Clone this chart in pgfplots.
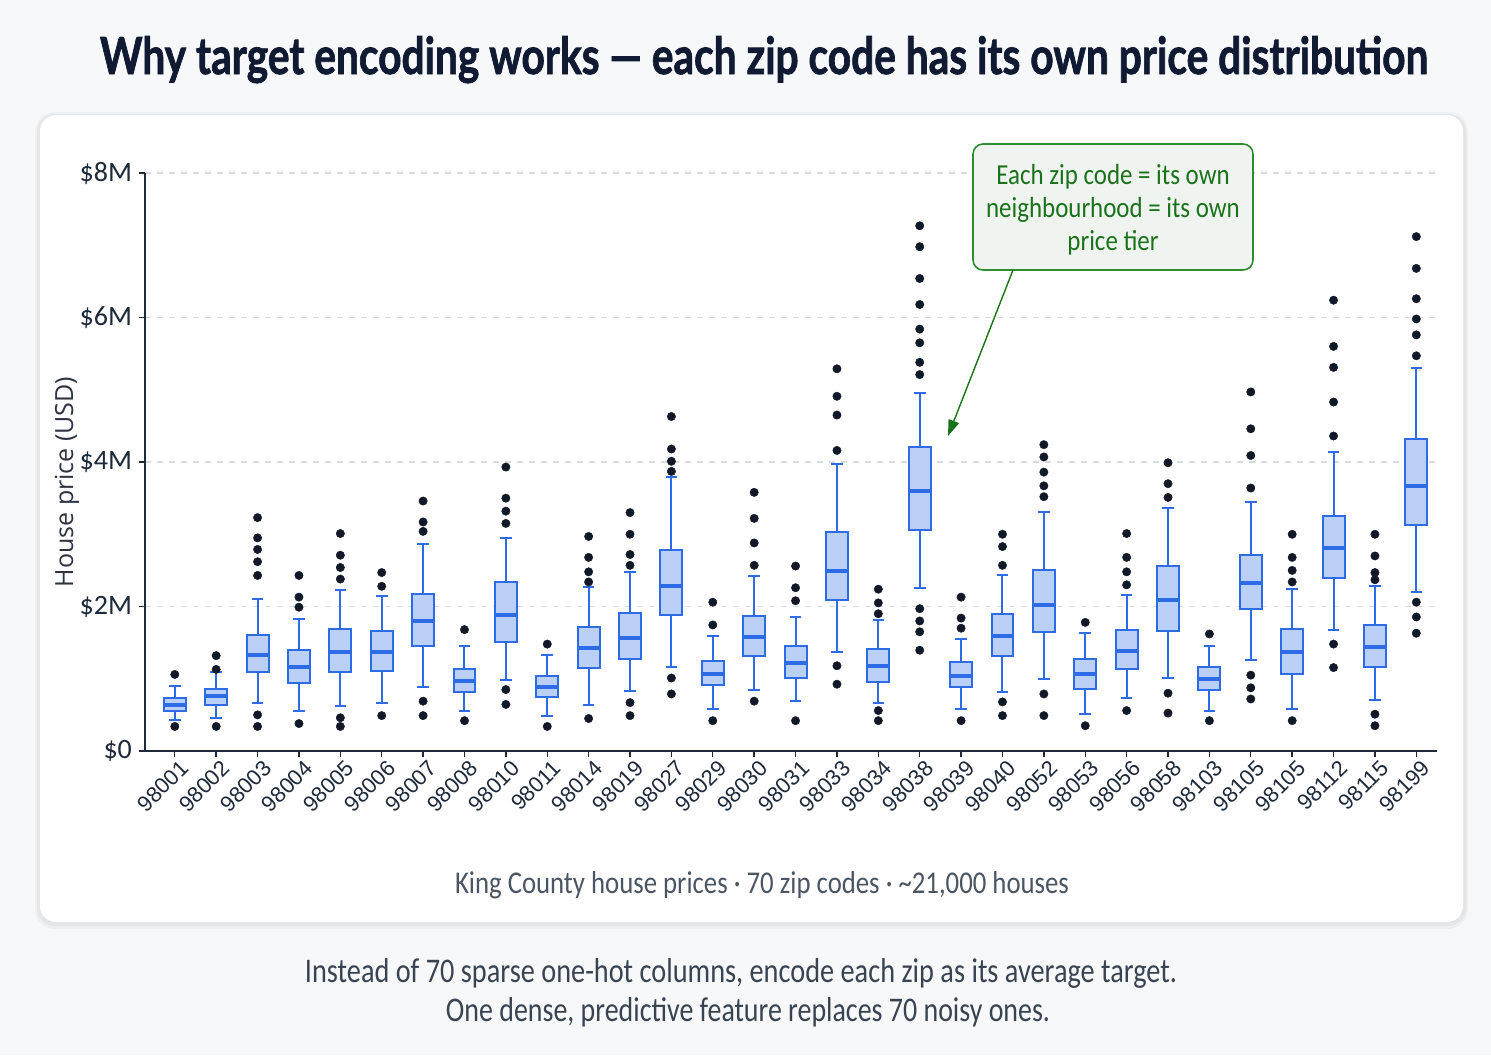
\documentclass[border=0pt]{standalone}
\usepackage{pgfplots}
\pgfplotsset{compat=1.18}
\usepgfplotslibrary{statistics}
\usetikzlibrary{arrows.meta}
\usepackage{fontspec}
\setmainfont{Liberation Sans}
\newfontfamily\cfont{Carlito}
\newfontfamily\ofont{Open Sans}
\newfontfamily\titlefont{Lato}[BoldFeatures={FakeBold=1.6}]
\definecolor{bg}{HTML}{F7F8FA}
\definecolor{bblue}{HTML}{2E6BE6}
\definecolor{bfill}{HTML}{BAD0F6}
\definecolor{dotc}{HTML}{111827}
\definecolor{axisc}{HTML}{1E293B}
\definecolor{gridc}{HTML}{D8DCE2}
\definecolor{titlec}{HTML}{111A33}
\definecolor{subc}{HTML}{4B5563}
\definecolor{footc}{HTML}{3A4352}
\definecolor{annc}{HTML}{1A721A}
\definecolor{annbg}{HTML}{F0F4F0}
\definecolor{annbd}{HTML}{2E8B2E}
\definecolor{ylabc}{HTML}{2D3440}
\pgfplotsset{mybox/.style={draw=bblue, line width=1pt, solid, mark=*, mark size=2.1pt,
  mark options={draw=dotc, fill=dotc, line width=0.2pt, solid}}}
\begin{document}
\begin{tikzpicture}[x=0.5pt,y=-0.5pt]
\useasboundingbox (0,0) rectangle (1491,1055);
\fill[bg] (0,0) rectangle (1491,1055);
\fill[black,opacity=0.035,rounded corners=10pt] (35,112) rectangle (1468,929);
\fill[black,opacity=0.04,rounded corners=9pt] (37,114) rectangle (1466,926);
\fill[white,rounded corners=8pt] (40,115) rectangle (1463,922);
\node[anchor=base, text=titlec] at (764,74) {\resizebox{664pt}{19pt}{\titlefont\bfseries Why target encoding works — each zip code has its own price distribution}};
\node[anchor=base, text=subc] at (762,893) {\resizebox{307pt}{11pt}{\cfont King County house prices · 70 zip codes · \textasciitilde21,000 houses}};
\node[anchor=base, text=footc] at (741,982) {\resizebox{436pt}{12pt}{\cfont Instead of 70 sparse one-hot columns, encode each zip as its average target.}};
\node[anchor=base, text=footc] at (748,1021) {\resizebox{302pt}{12pt}{\cfont One dense, predictive feature replaces 70 noisy ones.}};
\node[rotate=90, font=\ofont\fontsize{12.5}{13}\selectfont, text=ylabc] at (67,482) {House price (USD)};
\begin{axis}[at={(72.5pt,-375.5pt)}, anchor=south west, scale only axis,
  width=646pt, height=289pt,
  xmin=-0.72, xmax=30.5, ymin=0, ymax=8,
  axis lines=left, axis line style={-, draw=axisc, line width=0.8pt},
  ytick={0,2,4,6,8}, yticklabels={\$0,\$2M,\$4M,\$6M,\$8M},
  xtick={0,...,30},
  xticklabels={98001,98002,98003,98004,98005,98006,98007,98008,98010,98011,98014,98019,98027,98029,98030,98031,98033,98034,98038,98039,98040,98052,98053,98056,98058,98103,98105,98105,98112,98115,98199},
  tick align=outside, major tick length=3pt,
  tick style={draw=axisc, line width=0.7pt},
  ymajorgrids, grid style={gridc, dash pattern=on 3pt off 3pt, line width=0.6pt},
  xticklabel style={rotate=45, anchor=north east, font=\fontsize{11}{12}\selectfont, text=axisc, inner sep=1pt, xshift=2pt, yshift=-1pt},
  yticklabel style={font=\cfont\fontsize{14}{14}\selectfont, text=axisc},
  boxplot/draw direction=y,
  boxplot/box extend=0.53, boxplot/whisker extend=0.28,
  boxplot/every box/.style={fill=bfill},
  boxplot/every median/.style={line width=2pt},
  clip=false]
\addplot[mybox, boxplot prepared={draw position=0, lower whisker=0.43, lower quartile=0.55, median=0.64, upper quartile=0.73, upper whisker=0.90}] coordinates {(0,1.06) (0,0.34)};
\addplot[mybox, boxplot prepared={draw position=1, lower whisker=0.46, lower quartile=0.635, median=0.755, upper quartile=0.86, upper whisker=1.09}] coordinates {(0,1.32) (0,1.13) (0,0.34)};
\addplot[mybox, boxplot prepared={draw position=2, lower whisker=0.67, lower quartile=1.10, median=1.335, upper quartile=1.60, upper whisker=2.10}] coordinates {(0,3.23) (0,2.95) (0,2.79) (0,2.62) (0,2.43) (0,0.50) (0,0.34)};
\addplot[mybox, boxplot prepared={draw position=3, lower whisker=0.56, lower quartile=0.94, median=1.16, upper quartile=1.40, upper whisker=1.83}] coordinates {(0,2.43) (0,2.13) (0,1.99) (0,0.38)};
\addplot[mybox, boxplot prepared={draw position=4, lower whisker=0.62, lower quartile=1.10, median=1.37, upper quartile=1.685, upper whisker=2.23}] coordinates {(0,3.01) (0,2.71) (0,2.54) (0,2.38) (0,0.46) (0,0.34)};
\addplot[mybox, boxplot prepared={draw position=5, lower whisker=0.66, lower quartile=1.105, median=1.37, upper quartile=1.66, upper whisker=2.15}] coordinates {(0,2.47) (0,2.28) (0,0.49)};
\addplot[mybox, boxplot prepared={draw position=6, lower whisker=0.88, lower quartile=1.46, median=1.80, upper quartile=2.18, upper whisker=2.86}] coordinates {(0,3.46) (0,3.17) (0,3.04) (0,0.69) (0,0.49)};
\addplot[mybox, boxplot prepared={draw position=7, lower whisker=0.55, lower quartile=0.82, median=0.97, upper quartile=1.13, upper whisker=1.45}] coordinates {(0,1.68) (0,0.42)};
\addplot[mybox, boxplot prepared={draw position=8, lower whisker=0.985, lower quartile=1.51, median=1.88, upper quartile=2.34, upper whisker=2.95}] coordinates {(0,3.93) (0,3.50) (0,3.32) (0,3.15) (0,0.85) (0,0.645)};
\addplot[mybox, boxplot prepared={draw position=9, lower whisker=0.48, lower quartile=0.75, median=0.89, upper quartile=1.045, upper whisker=1.33}] coordinates {(0,1.48) (0,0.34)};
\addplot[mybox, boxplot prepared={draw position=10, lower whisker=0.63, lower quartile=1.15, median=1.42, upper quartile=1.72, upper whisker=2.27}] coordinates {(0,2.97) (0,2.68) (0,2.48) (0,2.34) (0,0.45)};
\addplot[mybox, boxplot prepared={draw position=11, lower whisker=0.83, lower quartile=1.28, median=1.565, upper quartile=1.91, upper whisker=2.48}] coordinates {(0,3.30) (0,3.00) (0,2.72) (0,2.57) (0,0.67) (0,0.49)};
\addplot[mybox, boxplot prepared={draw position=12, lower whisker=1.16, lower quartile=1.88, median=2.29, upper quartile=2.785, upper whisker=3.79}] coordinates {(0,4.63) (0,4.18) (0,4.01) (0,3.87) (0,1.01) (0,0.79)};
\addplot[mybox, boxplot prepared={draw position=13, lower whisker=0.575, lower quartile=0.92, median=1.07, upper quartile=1.24, upper whisker=1.59}] coordinates {(0,2.06) (0,1.745) (0,0.42)};
\addplot[mybox, boxplot prepared={draw position=14, lower whisker=0.84, lower quartile=1.31, median=1.575, upper quartile=1.87, upper whisker=2.42}] coordinates {(0,3.58) (0,3.22) (0,2.88) (0,2.57) (0,0.69)};
\addplot[mybox, boxplot prepared={draw position=15, lower whisker=0.69, lower quartile=1.01, median=1.215, upper quartile=1.46, upper whisker=1.86}] coordinates {(0,2.56) (0,2.26) (0,2.08) (0,0.42)};
\addplot[mybox, boxplot prepared={draw position=16, lower whisker=1.37, lower quartile=2.09, median=2.495, upper quartile=3.03, upper whisker=3.97}] coordinates {(0,5.29) (0,4.91) (0,4.65) (0,4.16) (0,1.18) (0,0.925)};
\addplot[mybox, boxplot prepared={draw position=17, lower whisker=0.66, lower quartile=0.95, median=1.17, upper quartile=1.41, upper whisker=1.81}] coordinates {(0,2.24) (0,2.05) (0,1.90) (0,0.56) (0,0.42)};
\addplot[mybox, boxplot prepared={draw position=18, lower whisker=2.25, lower quartile=3.06, median=3.60, upper quartile=4.21, upper whisker=4.95}] coordinates {(0,7.27) (0,6.98) (0,6.54) (0,6.18) (0,5.84) (0,5.65) (0,5.38) (0,5.21) (0,1.97) (0,1.80) (0,1.65) (0,1.395)};
\addplot[mybox, boxplot prepared={draw position=19, lower whisker=0.575, lower quartile=0.88, median=1.045, upper quartile=1.23, upper whisker=1.55}] coordinates {(0,2.13) (0,1.84) (0,1.70) (0,0.42)};
\addplot[mybox, boxplot prepared={draw position=20, lower whisker=0.82, lower quartile=1.31, median=1.59, upper quartile=1.89, upper whisker=2.435}] coordinates {(0,3.00) (0,2.83) (0,2.57) (0,0.68) (0,0.49)};
\addplot[mybox, boxplot prepared={draw position=21, lower whisker=0.99, lower quartile=1.65, median=2.02, upper quartile=2.51, upper whisker=3.31}] coordinates {(0,4.24) (0,4.07) (0,3.86) (0,3.67) (0,3.52) (0,0.79) (0,0.49)};
\addplot[mybox, boxplot prepared={draw position=22, lower whisker=0.51, lower quartile=0.865, median=1.06, upper quartile=1.27, upper whisker=1.63}] coordinates {(0,1.78) (0,0.35)};
\addplot[mybox, boxplot prepared={draw position=23, lower whisker=0.73, lower quartile=1.14, median=1.39, upper quartile=1.68, upper whisker=2.16}] coordinates {(0,3.01) (0,2.68) (0,2.48) (0,2.30) (0,0.56)};
\addplot[mybox, boxplot prepared={draw position=24, lower whisker=1.01, lower quartile=1.66, median=2.085, upper quartile=2.56, upper whisker=3.36}] coordinates {(0,3.99) (0,3.70) (0,3.51) (0,0.80) (0,0.525)};
\addplot[mybox, boxplot prepared={draw position=25, lower whisker=0.56, lower quartile=0.85, median=1.00, upper quartile=1.16, upper whisker=1.45}] coordinates {(0,1.62) (0,0.42)};
\addplot[mybox, boxplot prepared={draw position=26, lower whisker=1.26, lower quartile=1.96, median=2.32, upper quartile=2.71, upper whisker=3.45}] coordinates {(0,4.97) (0,4.46) (0,4.09) (0,3.64) (0,1.05) (0,0.875) (0,0.72)};
\addplot[mybox, boxplot prepared={draw position=27, lower whisker=0.58, lower quartile=1.07, median=1.37, upper quartile=1.69, upper whisker=2.24}] coordinates {(0,3.00) (0,2.68) (0,2.50) (0,2.34) (0,0.42)};
\addplot[mybox, boxplot prepared={draw position=28, lower whisker=1.68, lower quartile=2.40, median=2.81, upper quartile=3.25, upper whisker=4.14}] coordinates {(0,6.24) (0,5.60) (0,5.31) (0,4.83) (0,4.36) (0,1.48) (0,1.155)};
\addplot[mybox, boxplot prepared={draw position=29, lower whisker=0.71, lower quartile=1.16, median=1.44, upper quartile=1.745, upper whisker=2.29}] coordinates {(0,3.00) (0,2.70) (0,2.47) (0,2.37) (0,0.51) (0,0.35)};
\addplot[mybox, boxplot prepared={draw position=30, lower whisker=2.20, lower quartile=3.13, median=3.67, upper quartile=4.32, upper whisker=5.30}] coordinates {(0,7.12) (0,6.68) (0,6.26) (0,5.98) (0,5.76) (0,5.47) (0,2.06) (0,1.855) (0,1.63)};
\end{axis}
\draw[annbd, fill=annbg, rounded corners=5pt, line width=0.8pt] (973,144) rectangle (1253,270);
\node[anchor=base, text=annc] at (1113,184) {\scalebox{0.86}[1]{\cfont\fontsize{14.5}{14.5}\selectfont Each zip code = its own}};
\node[anchor=base, text=annc] at (1113,217) {\scalebox{0.86}[1]{\cfont\fontsize{14.5}{14.5}\selectfont neighbourhood = its own}};
\node[anchor=base, text=annc] at (1113,250) {\scalebox{0.86}[1]{\cfont\fontsize{14.5}{14.5}\selectfont price tier}};
\draw[annc, line width=0.7pt, -{Triangle[length=8pt,width=5.5pt]}] (1013,270) -- (948,436);
\end{tikzpicture}
\end{document}
